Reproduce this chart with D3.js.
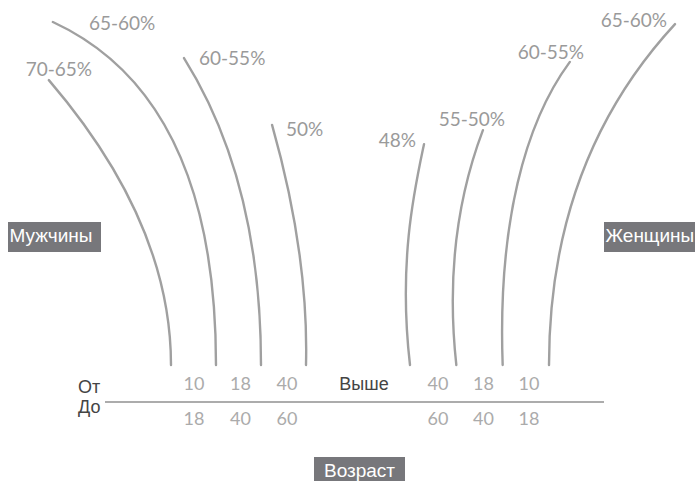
<!DOCTYPE html>
<html>
<head>
<meta charset="utf-8">
<script src="https://cdn.jsdelivr.net/npm/d3@7"></script>
<style>
  body { margin: 0; background: #fff; }
  svg { display: block; }
</style>
</head>
<body>
<div id="chart"></div>
<script>
// Share by age group, men on the left, women on the right
const menLabels = ["70-65%", "65-60%", "60-55%", "50%"];
const menRise = [81.4, 98, 87.7, 68.6];     // height of each arc (chart units)
const menReach = [34.9, 46.6, 22, 9.7];      // how far the arc leans outwards
const menBend = [0.5, 0.22, 0.4, 0.5];       // 0.5 = parabola, lower = rounder
const menBelly = [0, 0, 0, 2];               // slight bow back toward the centre

const womenLabels = ["48%", "55-50%", "60-55%", "65-60%"];
const womenRise = [63.1, 67.1, 86.6, 97.4];
const womenReach = [4, 7.6, 19.2, 36];
const womenBend = [0.3, 0.3, 0.3, 0.4];
const womenBelly = [12, 12, 5, 0];

const ageFrom = [10, 18, 40];
const ageTo = [18, 40, 60];
const menAgeGroups = ["10-18", "18-40", "40-60"];
const womenAgeGroups = ["40-60", "18-40", "10-18"];

(function() {
  const W = 695, H = 481;
  const baseY = 365;
  const lineColor = "#a0a0a0";
  const numFont = "Lato, 'Open Sans', sans-serif";
  const txtFont = "'Liberation Sans', Arial, sans-serif";

  const svg = d3.select("#chart").append("svg")
    .attr("width", W).attr("height", H)
    .attr("viewBox", `0 0 ${W} ${H}`);

  const y = d3.scaleLinear().domain([0, 100]).range([baseY, 15]);
  const reach = d3.scaleLinear().domain([0, 100]).range([0, 350]);
  const menX = d3.scalePoint().domain(menLabels).range([171, 306]);
  const womenX = d3.scalePoint().domain(womenLabels).range([410, 549]);

  const menAgeX = d3.scalePoint().domain(menAgeGroups).range([194, 287]);
  const womenAgeX = d3.scalePoint().domain(womenAgeGroups).range([438, 529]);

  // label offsets from the top of each arc
  const menPlace = [
    { anchor: "middle", dx: 10, dy: -4 },
    { anchor: "start", dx: 36, dy: 8 },
    { anchor: "start", dx: 15, dy: 7 },
    { anchor: "start", dx: 14, dy: 11 }
  ];
  const womenPlace = [
    { anchor: "end", dx: -8, dy: 3 },
    { anchor: "middle", dx: -11, dy: -4 },
    { anchor: "middle", dx: -19, dy: -3 },
    { anchor: "end", dx: -8, dy: 3 }
  ];

  // cubic from the top of the arc down to the axis, ending vertical
  function arcPath(xv, xs, ys, f, ov, dir) {
    const dy = baseY - ys;
    const p1 = [xs + (2 / 3) * (xv - xs), ys + (2 / 3) * f * dy];
    const p2 = [xv - dir * ov, baseY - (2 / 3) * (1 - f) * dy];
    const p = d3.path();
    p.moveTo(xs, ys);
    p.bezierCurveTo(p1[0], p1[1], p2[0], p2[1], xv, baseY);
    return p.toString();
  }

  function drawSide(labels, rise, lean, bend, belly, xScale, dir, place) {
    labels.forEach((lab, i) => {
      const xv = xScale(lab);
      const xs = xv + dir * reach(lean[i]);
      const ys = y(rise[i]);
      svg.append("path")
        .attr("d", arcPath(xv, xs, ys, bend[i], belly[i], dir))
        .attr("fill", "none")
        .attr("stroke", lineColor)
        .attr("stroke-width", 2.4)
        .attr("stroke-linecap", "round");
      svg.append("text")
        .attr("x", xs + place[i].dx).attr("y", ys + place[i].dy)
        .attr("text-anchor", place[i].anchor)
        .style("font-family", numFont).style("font-size", "19px")
        .attr("fill", "#9a9a9a")
        .text(lab);
    });
  }

  drawSide(menLabels, menRise, menReach, menBend, menBelly, menX, -1, menPlace);
  drawSide(womenLabels, womenRise, womenReach, womenBend, womenBelly, womenX, 1, womenPlace);

  // age axis
  svg.append("line")
    .attr("x1", 105).attr("x2", 604).attr("y1", 402).attr("y2", 402)
    .attr("stroke", "#acacac").attr("stroke-width", 2);

  function ageLabels(groups, xScale) {
    groups.forEach(g => {
      const i = menAgeGroups.indexOf(g);
      svg.append("text").attr("x", xScale(g)).attr("y", 390)
        .attr("text-anchor", "middle")
        .style("font-family", numFont).style("font-size", "18px")
        .attr("fill", "#ababab").text(ageFrom[i]);
      svg.append("text").attr("x", xScale(g)).attr("y", 425)
        .attr("text-anchor", "middle")
        .style("font-family", numFont).style("font-size", "18px")
        .attr("fill", "#ababab").text(ageTo[i]);
    });
  }
  ageLabels(menAgeGroups, menAgeX);
  ageLabels(womenAgeGroups, womenAgeX);

  svg.append("text").attr("x", 364).attr("y", 390).attr("text-anchor", "middle")
    .style("font-family", txtFont).style("font-size", "18px")
    .attr("fill", "#444").text("Выше");
  svg.append("text").attr("x", 78).attr("y", 393)
    .style("font-family", txtFont).style("font-size", "18px")
    .attr("fill", "#444").text("От");
  svg.append("text").attr("x", 78).attr("y", 413)
    .style("font-family", txtFont).style("font-size", "18px")
    .attr("fill", "#444").text("До");

  // grey tags
  function tag(text, x, yTop, w, anchor) {
    svg.append("rect").attr("x", x).attr("y", yTop).attr("width", w).attr("height", 30)
      .attr("fill", "#77777b");
    svg.append("text")
      .attr("x", anchor === "middle" ? x + w / 2 : x + 1.5)
      .attr("y", yTop + 20)
      .attr("text-anchor", anchor)
      .style("font-family", txtFont).style("font-size", "19px")
      .attr("fill", "#fff").text(text);
  }
  tag("Мужчины", 8, 222, 93, "start");
  tag("Женщины", 604, 222, 93, "start");
  tag("Возраст", 314, 457, 91, "middle");
})();
</script>
</body>
</html>
